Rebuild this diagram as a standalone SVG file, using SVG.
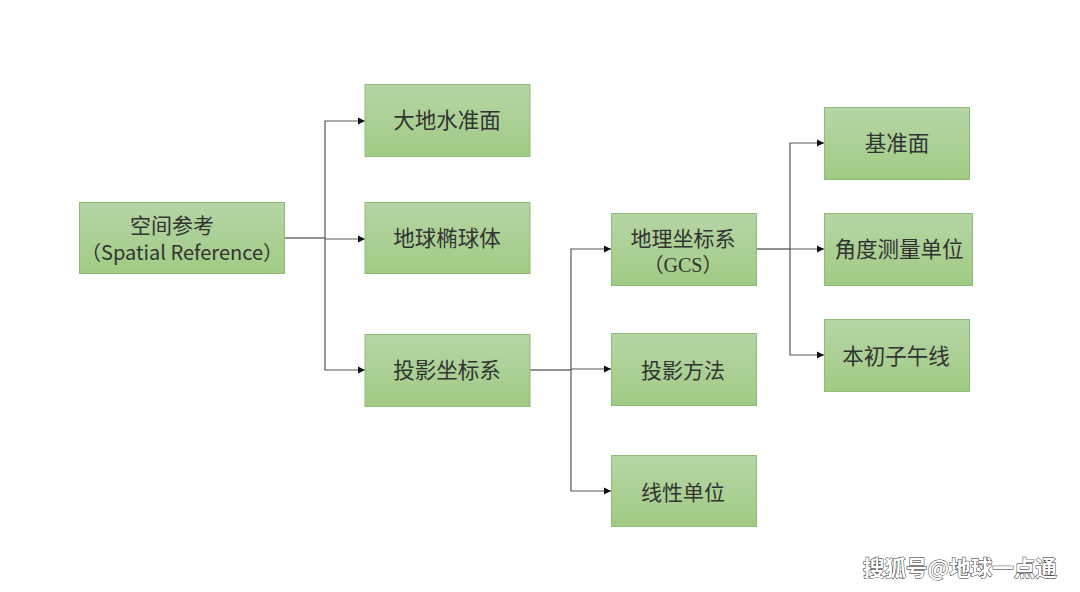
<svg xmlns="http://www.w3.org/2000/svg" width="1080" height="592" viewBox="0 0 1080 592">
<style>
text{font-family:"Noto Sans CJK SC","Noto Sans",sans-serif;fill:#333;text-anchor:middle}
.n rect{fill:url(#g);stroke:#8fbc75;stroke-width:1}
.l{font-size:21.500px}
.m{font-size:21px}
.s{font-size:20px}
.gcs{font-family:"Liberation Serif","Noto Sans CJK SC",serif;font-size:20px}
.c path{fill:none;stroke:#555;stroke-width:1.2}
.c path.d{stroke:#222}
.c path.a{marker-end:url(#ah)}
.wm{font-size:21.500px;font-weight:700;fill:#fff;stroke:#222;stroke-width:.9;paint-order:stroke;text-anchor:start}
</style>
<defs>
<linearGradient id="g" x1="0" y1="0" x2="0" y2="1"><stop offset="0" stop-color="#b6d5a5"/><stop offset="1" stop-color="#a0cb84"/></linearGradient>
<marker id="ah" markerUnits="userSpaceOnUse" markerWidth="8" markerHeight="8" refX="7" refY="4" orient="auto"><path d="M0 .5L7 4L0 7.500z" fill="#111"/></marker>
</defs>
<rect width="1080" height="592" fill="#fff"/>
<g class="c" id="connectors">
<path class="d" d="M285 238H325"/>
<path class="a" d="M325 238V121H365"/>
<path class="a" d="M325 239H365"/>
<path class="a" d="M325 238V370H365"/>
<path class="d" d="M530 370H571"/>
<path class="a" d="M571 370V249H611"/>
<path class="a" d="M571 369H611"/>
<path class="a" d="M571 370V491H611"/>
<path class="d" d="M756 249H790"/>
<path class="a" d="M790 249V143H824"/>
<path class="a" d="M790 249H824"/>
<path class="a" d="M790 249V355H824"/>
</g>
<g class="n" id="n1"><rect x="79.500" y="202.500" width="205" height="71"/><text class="m" x="172" y="233">空间参考<tspan class="s" x="182" y="260">（Spatial Reference）</tspan></text></g>
<g class="n" id="n2"><rect x="365" y="84.500" width="165" height="72"/><text class="l" x="447" y="128">大地水准面</text></g>
<g class="n" id="n3"><rect x="365" y="202.500" width="165" height="71"/><text class="l" x="447" y="246">地球椭球体</text></g>
<g class="n" id="n4"><rect x="365" y="334.500" width="165" height="72"/><text class="l" x="447" y="378">投影坐标系</text></g>
<g class="n" id="n5"><rect x="611.500" y="213.500" width="145" height="72"/><text class="m" x="683" y="246">地理坐标系<tspan class="gcs" x="683" y="272">（GCS）</tspan></text></g>
<g class="n" id="n6"><rect x="611.500" y="333.500" width="145" height="72"/><text class="m" x="683" y="378">投影方法</text></g>
<g class="n" id="n7"><rect x="611.500" y="455.500" width="145" height="71"/><text class="m" x="683" y="500">线性单位</text></g>
<g class="n" id="n8"><rect x="824.500" y="107.500" width="145" height="72"/><text class="l" x="897" y="151">基准面</text></g>
<g class="n" id="n9"><rect x="824.500" y="213.500" width="148" height="72"/><text class="l" x="899" y="257">角度测量单位</text></g>
<g class="n" id="n10"><rect x="824.500" y="319.500" width="145" height="72"/><text class="l" x="896" y="364">本初子午线</text></g>
<text class="wm" x="863" y="576">搜狐号@地球一点通</text>
</svg>
